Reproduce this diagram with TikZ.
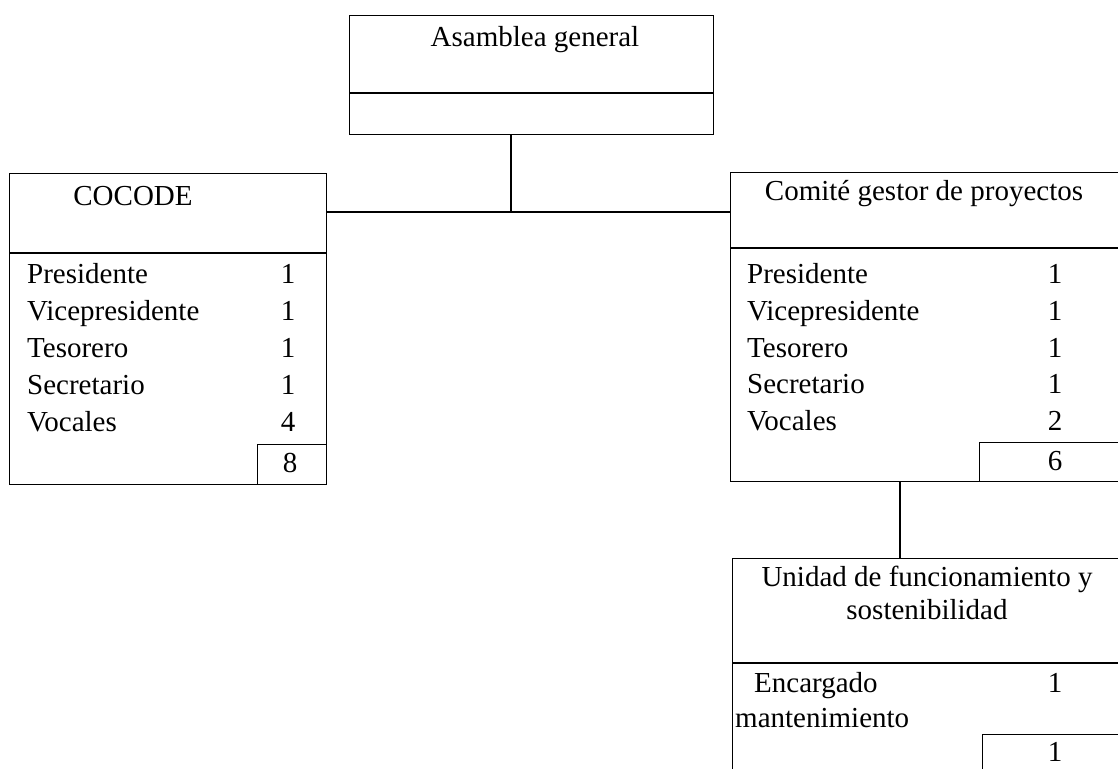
\documentclass[tikz,border=0pt]{standalone}
\usepackage{fontspec}
\setmainfont{Liberation Serif}
\begin{document}
\begin{tikzpicture}[x=1pt,y=-1pt,
  box/.style={draw, line width=1.3pt, inner sep=0, anchor=north west},
  txt/.style={inner sep=0, font=\fontsize{29}{33}\selectfont},
  ln/.style={line width=1.3pt}]
\useasboundingbox (0,0) rectangle (1118,768);
\clip (0,0) rectangle (1118,768);

% Asamblea general
\node[box, minimum width=364, minimum height=119] (asam) at (349,15) {};
\draw[ln] (asam.west |- 0,93) -- (asam.east |- 0,93);
\node[txt, anchor=base] (tasam) at (535,47) {Asamblea general};

% COCODE
\node[box, minimum width=317, minimum height=311] (cocode) at (9,173) {};
\draw[ln] (cocode.west |- 0,253) -- (cocode.east |- 0,253);
\node[box, minimum width=69, minimum height=40] (c8) at (257,444) {};
\node[txt, anchor=base] (tcocode) at (133,205) {COCODE};
\node[txt, anchor=base west] (c1) at (27,283) {Presidente};
\node[txt, anchor=base west] (c2) at (27,320) {Vicepresidente};
\node[txt, anchor=base west] (c3) at (27,357) {Tesorero};
\node[txt, anchor=base west] (c4) at (27,394) {Secretario};
\node[txt, anchor=base west] (c5) at (27,431) {Vocales};
\node[txt, anchor=base] (n1) at (288,283) {1};
\node[txt, anchor=base] (n2) at (288,320) {1};
\node[txt, anchor=base] (n3) at (288,357) {1};
\node[txt, anchor=base] (n4) at (288,394) {1};
\node[txt, anchor=base] (n5) at (288,431) {4};
\node[txt, anchor=base] (ntot) at (290,472) {8};

% Comite gestor
\node[box, minimum width=420, minimum height=309] (comite) at (730,172) {};
\draw[ln] (comite.west |- 0,248) -- (comite.east |- 0,248);
\node[box, minimum width=171, minimum height=39] (g6) at (979,442) {};
\node[txt, anchor=base] (tcomite) at (924,200) {Comité gestor de proyectos};
\node[txt, anchor=base west] (g1) at (747,283) {Presidente};
\node[txt, anchor=base west] (g2) at (747,320) {Vicepresidente};
\node[txt, anchor=base west] (g3) at (747,357) {Tesorero};
\node[txt, anchor=base west] (g4) at (747,393) {Secretario};
\node[txt, anchor=base west] (g5) at (747,430) {Vocales};
\node[txt, anchor=base] (m1) at (1055,283) {1};
\node[txt, anchor=base] (m2) at (1055,320) {1};
\node[txt, anchor=base] (m3) at (1055,357) {1};
\node[txt, anchor=base] (m4) at (1055,393) {1};
\node[txt, anchor=base] (m5) at (1055,430) {2};
\node[txt, anchor=base] (mtot) at (1055,470) {6};

% Unidad
\node[box, minimum width=418, minimum height=260] (unidad) at (732,558) {};
\draw[ln] (unidad.west |- 0,663) -- (unidad.east |- 0,663);
\node[box, minimum width=168, minimum height=60] (u1box) at (982,734) {};
\node[txt, anchor=base] (tu1) at (927,586) {Unidad de funcionamiento y};
\node[txt, anchor=base] (tu2) at (927,619) {sostenibilidad};
\node[txt, anchor=base west] (e1) at (754,692) {Encargado};
\node[txt, anchor=base west] (e2) at (735,727) {mantenimiento};
\node[txt, anchor=base] (k1) at (1055,692) {1};
\node[txt, anchor=base] (ktot) at (1055,761) {1};

% connectors
\coordinate (j) at (511,212);
\coordinate (k) at (900,0);
\draw[ln] (asam.south -| j) -- (j);
\draw[ln] (cocode.east |- j) -- (comite.west |- j);
\draw[ln] (comite.south -| k) -- (unidad.north -| k);
\end{tikzpicture}
\end{document}
